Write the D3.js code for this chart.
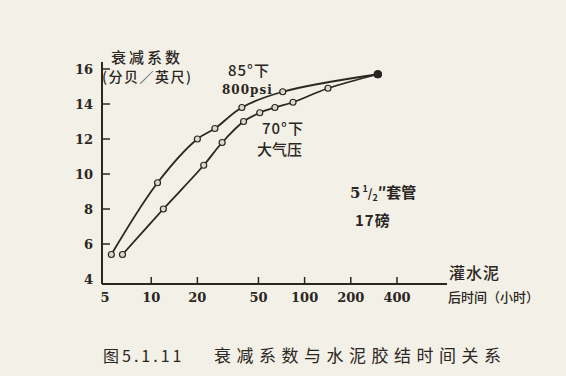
<!DOCTYPE html>
<html>
<head>
<meta charset="utf-8">
<script src="https://cdn.jsdelivr.net/npm/d3@7"></script>
<style>
  body { margin: 0; background: #f3f0e8; }
  text { fill: #2b2622; }
</style>
</head>
<body>
<script>
  // 数据：灌水泥后时间（小时）与衰减系数（分贝/英尺）
  const hours85 = [5.5, 11, 20, 26, 39, 72, 300];
  const atten85 = [5.4, 9.5, 12.0, 12.6, 13.8, 14.7, 15.7];
  const hours70 = [6.5, 12, 22, 29, 40, 51, 64, 84, 142, 300];
  const atten70 = [5.4, 8.0, 10.5, 11.8, 13.0, 13.5, 13.8, 14.1, 14.9, 15.7];
  const xTicks = [5, 10, 20, 50, 100, 200, 400];
  const yTicks = [4, 6, 8, 10, 12, 14, 16];

  const width = 566;
  const height = 376;
  const ink = '#2b2622';
  const serif = '"DejaVu Serif", "Liberation Serif", serif';
  const cjk = '"Noto Sans CJK SC", sans-serif';

  const svg = d3.select('body')
          .append('svg')
          .attr('width', width)
          .attr('height', height);

  svg.append('rect').attr('width', width).attr('height', height).attr('fill', '#f3f0e8');

  // 对数横轴，线性纵轴
  const x = d3.scaleLog().domain([5, 400]).range([105, 397]);
  const y = d3.scaleLinear().domain([4, 16]).range([279, 69]);

  // 坐标轴线
  svg.append('line')
          .attr('x1', 102).attr('x2', 102)
          .attr('y1', 62).attr('y2', 284)
          .attr('stroke', ink).attr('stroke-width', 2);
  svg.append('line')
          .attr('x1', 102).attr('x2', 447)
          .attr('y1', 284).attr('y2', 284)
          .attr('stroke', ink).attr('stroke-width', 2);

  // 纵轴刻度
  svg.append('g').selectAll('line')
          .data(yTicks.filter(d => d > 4))
          .enter()
          .append('line')
          .attr('x1', 102).attr('x2', 110)
          .attr('y1', d => y(d)).attr('y2', d => y(d))
          .attr('stroke', ink).attr('stroke-width', 1.5);
  svg.append('g').selectAll('text')
          .data(yTicks)
          .enter()
          .append('text')
          .attr('x', 93)
          .attr('y', d => y(d) + 5)
          .attr('text-anchor', 'end')
          .attr('font-family', serif)
          .attr('font-weight', 'bold')
          .attr('font-size', 13)
          .text(d => d);

  // 横轴刻度
  svg.append('g').selectAll('line')
          .data(xTicks.filter(d => d > 5))
          .enter()
          .append('line')
          .attr('x1', d => x(d)).attr('x2', d => x(d))
          .attr('y1', 284).attr('y2', 277)
          .attr('stroke', ink).attr('stroke-width', 1.5);
  svg.append('g').selectAll('text')
          .data(xTicks)
          .enter()
          .append('text')
          .attr('x', d => x(d))
          .attr('y', 302)
          .attr('text-anchor', 'middle')
          .attr('font-family', serif)
          .attr('font-weight', 'bold')
          .attr('font-size', 13)
          .text(d => d);

  // 两条曲线
  const line = d3.line()
          .x(d => x(d[0]))
          .y(d => y(d[1]))
          .curve(d3.curveCatmullRom);

  const series = [
    d3.zip(hours85, atten85),
    d3.zip(hours70, atten70)
  ];

  svg.append('g').selectAll('path')
          .data(series)
          .enter()
          .append('path')
          .attr('d', line)
          .attr('fill', 'none')
          .attr('stroke', ink)
          .attr('stroke-width', 1.8);

  svg.append('g').selectAll('circle')
          .data(series.flatMap(s => s))
          .enter()
          .append('circle')
          .attr('cx', d => x(d[0]))
          .attr('cy', d => y(d[1]))
          .attr('r', d => d[0] === 300 ? 3.5 : 3)
          .attr('fill', d => d[0] === 300 ? ink : '#dcd8d0')
          .attr('stroke', ink)
          .attr('stroke-width', 1.2);

  // 文字标注
  const labels = [
    { t: '衰减系数', x: 111, y: 63, f: cjk, s: 15, ls: 3, w: 500 },
    { t: '(分贝／英尺)', x: 102, y: 82, f: cjk, s: 14, ls: 1.5, w: 500 },
    { t: '85°下', x: 228, y: 76, f: cjk, s: 15, ls: 1, w: 500 },
    { t: '800psi', x: 222, y: 94, f: serif, s: 12, ls: 1, w: 600 },
    { t: '70°下', x: 262, y: 134, f: cjk, s: 15, ls: 1, w: 500 },
    { t: '大气压', x: 257, y: 155, f: cjk, s: 15, ls: 0, w: 500 },
    { t: '17磅', x: 355, y: 226, f: cjk, s: 15, ls: 1, w: 600 },
    { t: '灌水泥', x: 449, y: 279, f: cjk, s: 16, ls: 1, w: 500 },
    { t: '后时间（小时）', x: 448, y: 302, f: cjk, s: 13, ls: 0, w: 500 },
    { t: '图5.1.11', x: 103, y: 362, f: cjk, s: 16, ls: 3, w: 400 },
    { t: '衰减系数与水泥胶结时间关系', x: 214, y: 362, f: cjk, s: 17, ls: 5.5, w: 400 }
  ];

  svg.append('g').selectAll('text')
          .data(labels)
          .enter()
          .append('text')
          .attr('x', d => d.x)
          .attr('y', d => d.y)
          .attr('font-family', d => d.f)
          .attr('font-size', d => d.s)
          .attr('font-weight', d => d.w)
          .attr('letter-spacing', d => d.ls)
          .text(d => d.t);

  // 5 1/2" 套管
  const casing = svg.append('text')
          .attr('x', 350).attr('y', 198)
          .attr('font-family', cjk)
          .attr('font-weight', 600)
          .attr('font-size', 15);
  casing.append('tspan').attr('font-family', serif).text('5');
  casing.append('tspan').attr('font-size', 9).attr('dy', -6).attr('dx', 2).text('1');
  casing.append('tspan').attr('font-size', 12).attr('dy', 6).text('/');
  casing.append('tspan').attr('font-size', 9).attr('dy', 3).text('2');
  casing.append('tspan').attr('dy', -3).text('″套管');
</script>
</body>
</html>
